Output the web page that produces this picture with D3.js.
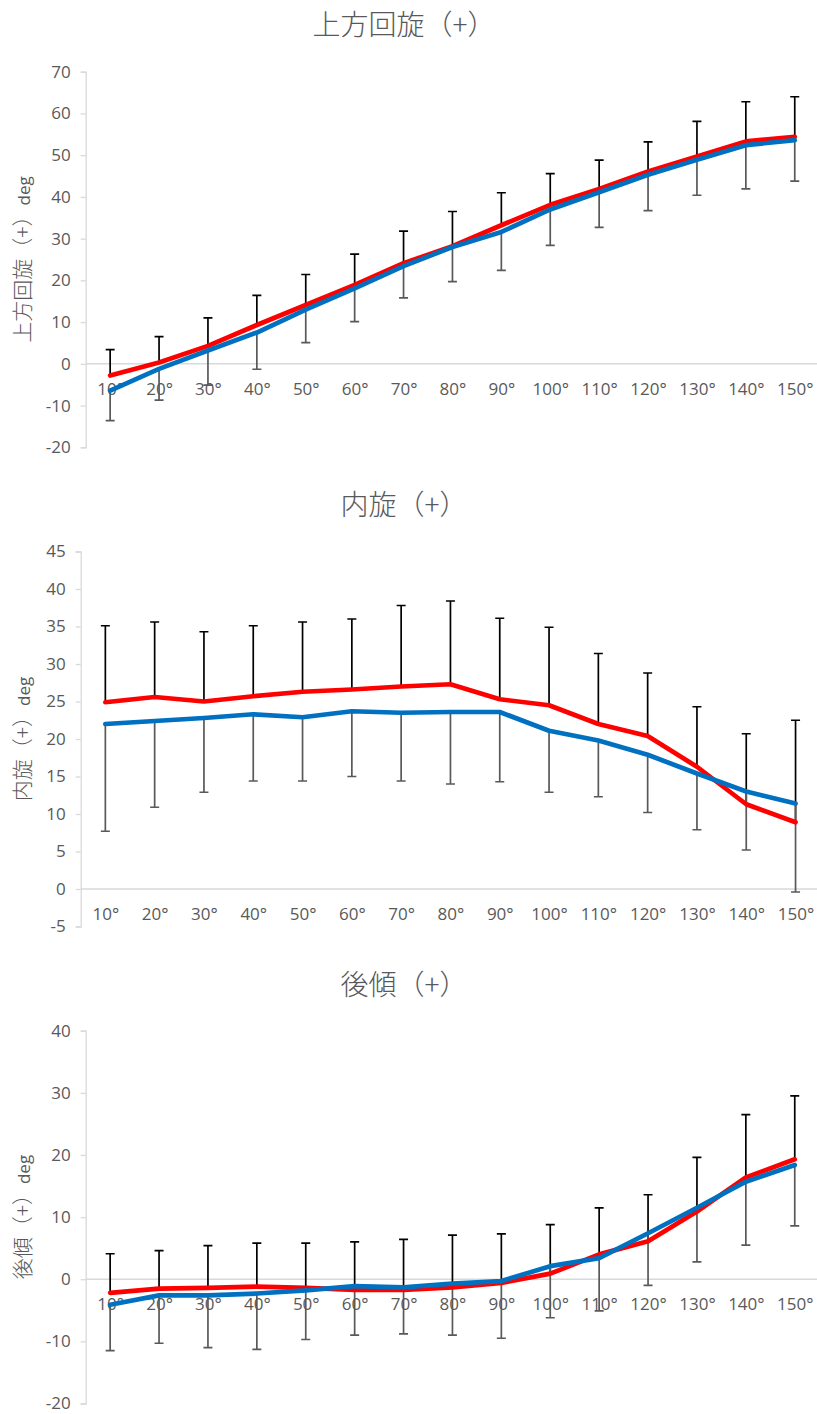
<!DOCTYPE html>
<html><head><meta charset="utf-8">
<script src="https://cdn.jsdelivr.net/npm/d3@7"></script>
<style>
html,body{margin:0;padding:0;background:#fff;}
svg{display:block;}
</style></head>
<body><svg id="c" width="817" height="1414"></svg>
<script>
const categories = ["10°","20°","30°","40°","50°","60°","70°","80°","90°","100°","110°","120°","130°","140°","150°"];

// Panel 1: 上方回旋（+）
const upRotRed    = [-2.8, 0.3, 4.3, 9.3, 14.1, 18.9, 24.1, 28.2, 33.2, 38.1, 41.9, 46.1, 49.7, 53.3, 54.4];
const upRotRedSD  = [6.2, 6.2, 6.7, 7.1, 7.3, 7.4, 7.7, 8.3, 7.8, 7.5, 6.9, 7.1, 8.4, 9.5, 9.6];
const upRotBlue   = [-6.4, -1.2, 3.2, 7.5, 13.0, 18.1, 23.4, 28.0, 31.6, 37.0, 41.1, 45.3, 48.9, 52.4, 53.6];
const upRotBlueSD = [7.2, 7.5, 8.3, 8.8, 7.9, 8.0, 7.6, 8.3, 9.2, 8.6, 8.4, 8.6, 8.5, 10.5, 9.8];
const upRotTicks  = [-20, -10, 0, 10, 20, 30, 40, 50, 60, 70];

// Panel 2: 内旋（+）
const intRotRed    = [24.9, 25.6, 25.0, 25.7, 26.3, 26.6, 27.0, 27.3, 25.3, 24.5, 22.0, 20.4, 16.3, 11.3, 8.9];
const intRotRedSD  = [10.2, 10.0, 9.3, 9.4, 9.3, 9.4, 10.8, 11.1, 10.8, 10.4, 9.4, 8.4, 8.0, 9.4, 13.6];
const intRotBlue   = [22.0, 22.4, 22.8, 23.3, 22.9, 23.7, 23.5, 23.6, 23.6, 21.1, 19.8, 17.9, 15.4, 13.0, 11.4];
const intRotBlueSD = [14.3, 11.5, 9.9, 8.9, 8.5, 8.7, 9.1, 9.6, 9.3, 8.2, 7.5, 7.7, 7.5, 7.8, 11.8];
const intRotTicks  = [-5, 0, 5, 10, 15, 20, 25, 30, 35, 40, 45];

// Panel 3: 後傾（+）
const tiltRed    = [-2.2, -1.5, -1.4, -1.2, -1.4, -1.7, -1.7, -1.3, -0.6, 0.9, 4.0, 6.1, 10.9, 16.4, 19.3];
const tiltRedSD  = [6.3, 6.1, 6.8, 7.0, 7.2, 7.7, 8.1, 8.4, 7.9, 7.9, 7.5, 7.5, 8.7, 10.1, 10.2];
const tiltBlue   = [-4.1, -2.6, -2.6, -2.3, -1.8, -1.1, -1.3, -0.7, -0.3, 2.1, 3.4, 7.4, 11.5, 15.7, 18.4];
const tiltBlueSD = [7.4, 7.7, 8.4, 9.0, 7.9, 7.9, 7.5, 8.3, 9.2, 8.3, 8.5, 8.4, 8.7, 10.2, 9.8];
const tiltTicks  = [-20, -10, 0, 10, 20, 30, 40];

const panels = [
  {title:"上方回旋（+）", yTitle:"上方回旋（+）", red:upRotRed, redSD:upRotRedSD, blue:upRotBlue, blueSD:upRotBlueSD, ticks:upRotTicks,
   left:85.7, top:71.7, bottom:447.3, bw:48.9, titleY:25},
  {title:"内旋（+）", yTitle:"内旋（+）", red:intRotRed, redSD:intRotRedSD, blue:intRotBlue, blueSD:intRotBlueSD, ticks:intRotTicks,
   left:80.7, top:551.5, bottom:926.5, bw:49.3, titleY:505},
  {title:"後傾（+）", yTitle:"後傾（+）", red:tiltRed, redSD:tiltRedSD, blue:tiltBlue, blueSD:tiltBlueSD, ticks:tiltTicks,
   left:85.7, top:1030.7, bottom:1403.5, bw:48.9, titleY:985}
];

const svg = d3.select("#c");
const GRAY = "#595959", AXIS = "#D9D9D9";
const CJK = "'Noto Sans CJK JP','Noto Sans CJK SC',sans-serif";
const LAT = "'Open Sans','Lato',sans-serif";

panels.forEach(p => {
  const g = svg.append("g");
  const x = d3.scalePoint().domain(categories).range([p.left, p.left + 15*p.bw]).padding(0.5);
  const y = d3.scaleLinear().domain(d3.extent(p.ticks)).range([p.bottom, p.top]);

  // title
  g.append("text").attr("x", 404).attr("y", p.titleY).attr("dy", "0.35em")
    .attr("text-anchor", "middle").attr("fill", GRAY)
    .style("font-family", CJK).style("font-size", "28px").style("font-weight", 300)
    .text(p.title);

  // y axis title
  const yt = g.append("text")
    .attr("transform", `translate(24,${(p.top+p.bottom)/2}) rotate(-90)`)
    .attr("text-anchor", "middle").attr("dy", "0.35em").attr("fill", GRAY);
  yt.append("tspan").style("font-family", CJK).style("font-size", "21px").style("font-weight", 300).text(p.yTitle);
  yt.append("tspan").style("font-family", LAT).style("font-size", "17px").text("deg");

  // y axis
  const ya = g.append("g").attr("transform", `translate(${p.left},0)`)
    .call(d3.axisLeft(y).tickValues(p.ticks).tickSize(5).tickPadding(10).tickFormat(d => String(d)));
  ya.select(".domain").attr("stroke", AXIS).attr("stroke-width", 1.3);
  ya.selectAll(".tick line").attr("stroke", AXIS).attr("stroke-width", 1.3);
  ya.selectAll(".tick text").attr("fill", GRAY).style("font-family", LAT).style("font-size", "17px");

  // x axis at zero
  const xa = g.append("g").attr("transform", `translate(0,${y(0)})`)
    .call(d3.axisBottom(x).tickSize(0).tickPadding(0));
  xa.select(".domain").attr("stroke", AXIS).attr("stroke-width", 1.5)
    .attr("d", `M${p.left},0H${p.left + 15*p.bw}`);
  xa.selectAll(".tick text").attr("fill", GRAY).attr("y", 25).attr("dy", "0.35em")
    .style("font-family", LAT).style("font-size", "17px");

  const idx = d3.range(categories.length);
  const cap = 4.5;

  // red error bars (plus, black)
  const rb = g.append("g").attr("stroke", "#000").attr("stroke-width", 1.7).attr("fill", "none");
  idx.forEach(i => {
    const cx = x(categories[i]), y0 = y(p.red[i]), y1 = y(p.red[i] + p.redSD[i]);
    rb.append("path").attr("d", `M${cx},${y0}V${y1}M${cx-cap},${y1}H${cx+cap}`);
  });
  // blue error bars (minus, gray)
  const bb = g.append("g").attr("stroke", GRAY).attr("stroke-width", 1.7).attr("fill", "none");
  idx.forEach(i => {
    const cx = x(categories[i]), y0 = y(p.blue[i]), y1 = y(p.blue[i] - p.blueSD[i]);
    bb.append("path").attr("d", `M${cx},${y0}V${y1}M${cx-cap},${y1}H${cx+cap}`);
  });

  const line = d3.line().x((d,i) => x(categories[i])).y(d => y(d));
  g.append("path").datum(p.red).attr("d", line).attr("fill", "none")
    .attr("stroke", "#FF0000").attr("stroke-width", 4.7).attr("stroke-linejoin", "round").attr("stroke-linecap", "round");
  g.append("path").datum(p.blue).attr("d", line).attr("fill", "none")
    .attr("stroke", "#0070C0").attr("stroke-width", 4.7).attr("stroke-linejoin", "round").attr("stroke-linecap", "round");
});
</script>
</body></html>
